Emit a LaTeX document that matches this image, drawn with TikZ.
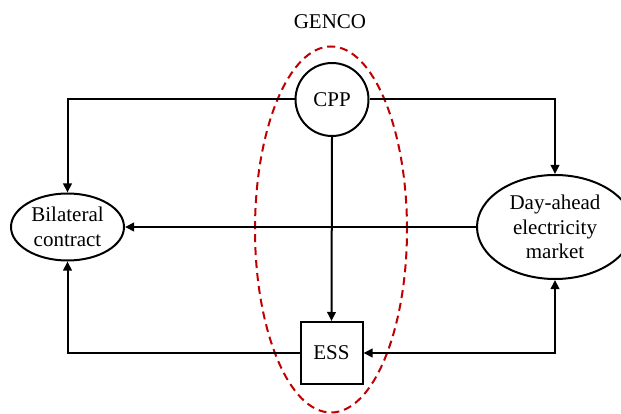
\documentclass[tikz,border=0pt]{standalone}
\usepackage{fontspec}
\setmainfont{Liberation Serif}
\usetikzlibrary{shapes.geometric,arrows.meta}
\definecolor{gencored}{RGB}{192,0,0}
\begin{document}
\begin{tikzpicture}[x=1pt,y=-1pt,
  every node/.style={font=\fontsize{21}{24.5}\selectfont, align=center, inner sep=0pt},
  conn/.style={line width=2pt, -{Triangle[length=9pt,width=8.5pt]}},
  bothconn/.style={line width=2pt, {Triangle[length=9pt,width=8.5pt]}-{Triangle[length=9pt,width=8.5pt]}},
  roundnode/.style={circle, draw, line width=2pt, minimum size=73pt, fill=white},
  boxnode/.style={rectangle, draw, line width=2pt, minimum size=62pt, fill=white},
  ovalnode/.style={ellipse, draw, line width=2pt, fill=white},
  group/.style={draw=gencored, line width=2pt, dash pattern=on 8pt off 5pt}
]
\useasboundingbox (0,0) rectangle (621,414);
\draw[group] (331,229.5) ellipse [x radius=76pt, y radius=183pt];
\node (genco) at (330,22) {GENCO};
\node[roundnode] (cpp) at (332,99.5) {CPP};
\node[boxnode] (ess) at (331.5,353) {ESS};
\node[ovalnode, minimum width=113pt, minimum height=67pt] (bil) at (67.5,227) {Bilateral\\contract};
\node[ovalnode, minimum width=156pt, minimum height=104pt] (day) at (555,227) {Day-ahead\\electricity\\market};
\draw[conn] (cpp.west) -| (bil.north);
\draw[conn] (cpp.east) -| (day.north);
\draw[conn] (cpp.south) -- (ess.north);
\draw[conn] (day.west) -- (bil.east);
\draw[conn] (ess.west) -| (bil.south);
\draw[bothconn] (ess.east) -| (day.south);
\end{tikzpicture}
\end{document}
